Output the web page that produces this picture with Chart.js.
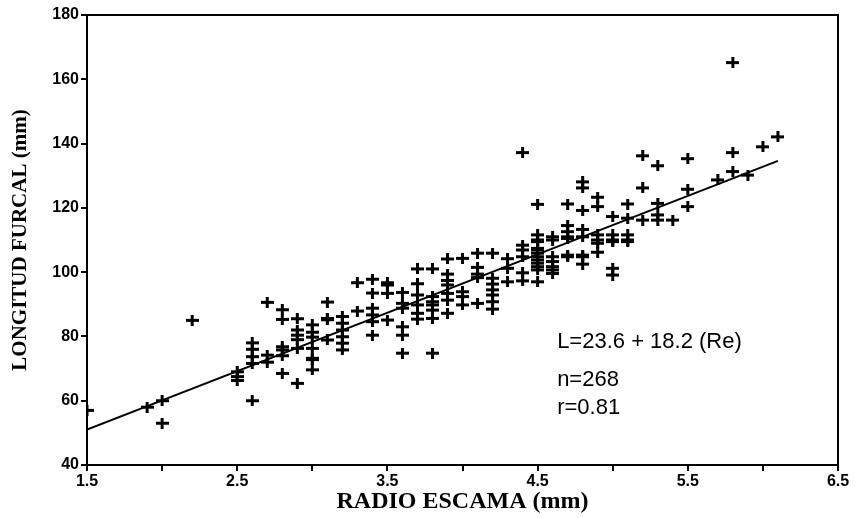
<!DOCTYPE html>
<html>
<head>
<meta charset="utf-8">
<script src="https://cdn.jsdelivr.net/npm/chart.js@4/dist/chart.umd.min.js"></script>
<style>
  html, body { margin: 0; padding: 0; background: #fff; }
  #wrap { width: 856px; height: 518px; }
</style>
</head>
<body>
<div id="wrap"><canvas id="chart" width="856" height="518"></canvas></div>
<script>
// radio de escama (mm) and longitud furcal (mm)
const radio = [
  1.5, 1.9, 2.0, 2.0, 2.2,
  2.5, 2.5, 2.5, 2.6, 2.6, 2.6, 2.6, 2.6,
  2.7, 2.7, 2.7, 2.8, 2.8, 2.8, 2.8, 2.8, 2.8,
  2.9, 2.9, 2.9, 2.9, 2.9, 2.9,
  3.0, 3.0, 3.0, 3.0, 3.0, 3.0, 3.0,
  3.1, 3.1, 3.1, 3.1,
  3.2, 3.2, 3.2, 3.2, 3.2, 3.2,
  3.3, 3.3, 3.4, 3.4, 3.4, 3.4, 3.4, 3.4,
  3.5, 3.5, 3.5, 3.5,
  3.6, 3.6, 3.6, 3.6, 3.6, 3.6,
  3.7, 3.7, 3.7, 3.7, 3.7, 3.7,
  3.8, 3.8, 3.8, 3.8, 3.8, 3.8, 3.8,
  3.9, 3.9, 3.9, 3.9, 3.9, 3.9, 3.9,
  4.0, 4.0, 4.0, 4.0,
  4.1, 4.1, 4.1, 4.1, 4.1,
  4.2, 4.2, 4.2, 4.2, 4.2, 4.2, 4.2,
  4.3, 4.3, 4.3,
  4.4, 4.4, 4.4, 4.4, 4.4, 4.4,
  4.5, 4.5, 4.5, 4.5, 4.5, 4.5, 4.5, 4.5, 4.5, 4.5, 4.5, 4.5, 4.5,
  4.6, 4.6, 4.6, 4.6, 4.6, 4.6, 4.6,
  4.7, 4.7, 4.7, 4.7, 4.7, 4.7, 4.7,
  4.8, 4.8, 4.8, 4.8, 4.8, 4.8, 4.8, 4.8,
  4.9, 4.9, 4.9, 4.9, 4.9, 4.9,
  5.0, 5.0, 5.0, 5.0, 5.0, 5.0,
  5.1, 5.1, 5.1, 5.1, 5.1,
  5.2, 5.2, 5.2,
  5.3, 5.3, 5.3, 5.3,
  5.4,
  5.5, 5.5, 5.5,
  5.7, 5.8, 5.8, 5.8, 5.9, 6.0, 6.1
];
const longitud = [
  57, 58, 60, 53, 85,
  69, 67.5, 66.3, 78, 76, 73.7, 71.6, 60,
  90.6, 74.2, 72, 88.3, 85.3, 76.8, 75.8, 74, 68.5,
  85.5, 82, 80.4, 79, 76.3, 65.4,
  83.6, 81.3, 79.8, 76.3, 73.2, 72.8, 69.6,
  90.7, 85.2, 85.6, 78.9,
  86.2, 84.1, 82, 79.9, 77.9, 75.8,
  96.7, 87.9, 97.8, 93.5, 88.8, 86.7, 84.6, 80.4,
  96.7, 96, 93.4, 85.1,
  93.7, 90.3, 88.8, 83, 80.4, 74.8,
  101, 96.4, 92.9, 89.8, 87.2, 85.4,
  101, 92.4, 90.8, 89.8, 88.2, 85.6, 74.8,
  104.1, 99.4, 97.4, 96, 93.4, 91.3, 87.2,
  104.3, 93.9, 89.8, 92.4,
  105.9, 101.5, 99.4, 98.3, 90.3,
  105.9, 98.1, 96.3, 94.5, 92.9, 90.8, 88.5,
  104.2, 101.2, 97,
  137.2, 108.4, 106.9, 104.8, 99.8, 97.3,
  121.1, 111.6, 110, 109.5, 107.4, 106.9, 105.9, 104.8, 103.8, 102.8, 101.7, 100.7, 97,
  111, 110, 104.8, 103.3, 101.7, 100.7, 99.6,
  121.2, 114.5, 112.6, 111, 110.5, 105.3, 104.8,
  128.1, 126.2, 119.2, 113.3, 111, 105.3, 104.8, 102.5,
  123.3, 120.4, 111.6, 110, 109, 106.2,
  117.3, 111.6, 110, 109.5, 101.2, 99.1,
  121.2, 116.8, 111.6, 110, 109.5,
  136.2, 126.2, 116.2,
  133.1, 121.4, 117.8, 116.2,
  116.2,
  135.3, 125.8, 120.4,
  128.7, 165.2, 137.2, 131.3, 130.2, 139, 142.1
];

// fitted line end points (L = 23.6 + 18.2 Re)
const fitX = [1.5, 6.1];
const fitY = [51.0, 134.6];

const xTicks = [1.5, 2.5, 3.5, 4.5, 5.5, 6.5];
const notes = ['L=23.6 + 18.2 (Re)', 'n=268', 'r=0.81'];
const notePos = [[4.63, 78.2], [4.63, 66.6], [4.63, 57.6]];

const makePlus = () => {
  const c = document.createElement('canvas');
  c.width = 13;
  c.height = 11;
  const g = c.getContext('2d');
  g.fillStyle = '#000';
  g.fillRect(0, 4, 13, 3);
  g.fillRect(5, 0, 3, 11);
  return c;
};

const framePlugin = {
  id: 'frame',
  afterDraw(chart) {
    const { ctx, chartArea: a, scales } = chart;
    ctx.save();
    ctx.strokeStyle = '#000';
    ctx.lineWidth = 2;
    ctx.strokeRect(a.left, a.top, a.right - a.left, a.bottom - a.top);
    ctx.fillStyle = '#000';
    ctx.font = '22px "Liberation Sans", Arial, sans-serif';
    ctx.textBaseline = 'middle';
    notes.forEach((t, i) => {
      ctx.fillText(t, scales.x.getPixelForValue(notePos[i][0]), scales.y.getPixelForValue(notePos[i][1]));
    });
    ctx.restore();
  }
};

const points = radio.map((r, i) => ({ x: r, y: longitud[i] }));
const fit = fitX.map((r, i) => ({ x: r, y: fitY[i] }));

new Chart(document.getElementById('chart'), {
  type: 'scatter',
  data: {
    datasets: [
      {
        data: points,
        pointStyle: makePlus(),
        pointRadius: 6,
        pointHoverRadius: 6
      },
      {
        type: 'line',
        data: fit,
        borderColor: '#000',
        borderWidth: 2,
        pointRadius: 0,
        fill: false
      }
    ]
  },
  options: {
    responsive: false,
    animation: false,
    events: [],
    layout: { padding: { top: 15, right: 18, bottom: 0, left: 0 } },
    plugins: { legend: { display: false }, tooltip: { enabled: false } },
    scales: {
      x: {
        type: 'linear',
        min: 1.5,
        max: 6.5,
        afterFit(scale) { scale.height = 53; },
        afterBuildTicks(scale) {
          const t = [];
          for (let v = 1.5; v <= 6.5001; v += 0.5) t.push({ value: Math.round(v * 10) / 10 });
          scale.ticks = t;
        },
        ticks: {
          autoSkip: false,
          maxRotation: 0,
          padding: 1,
          color: '#000',
          font: { family: '"Liberation Sans", Arial, sans-serif', size: 16, weight: 'bold' },
          callback: (v) => xTicks.includes(v) ? v.toFixed(1) : ''
        },
        grid: { drawOnChartArea: false, drawTicks: true, tickLength: 6, color: '#000', lineWidth: 2 },
        border: { display: true, color: '#000', width: 2 },
        title: {
          display: true,
          text: 'RADIO ESCAMA (mm)',
          color: '#000',
          padding: { top: 0, bottom: 2 },
          font: { family: '"Liberation Serif", "Times New Roman", serif', size: 24, weight: 'bold' }
        }
      },
      y: {
        min: 40,
        max: 180,
        afterFit(scale) { scale.width = 87; },
        ticks: {
          stepSize: 20,
          padding: 2,
          color: '#000',
          font: { family: '"Liberation Sans", Arial, sans-serif', size: 16, weight: 'bold' }
        },
        grid: { drawOnChartArea: false, drawTicks: true, tickLength: 6, color: '#000', lineWidth: 2 },
        border: { display: true, color: '#000', width: 2 },
        title: {
          display: true,
          text: 'LONGITUD FURCAL (mm)',
          color: '#000',
          padding: { top: 8, bottom: 4 },
          font: { family: '"Liberation Serif", "Times New Roman", serif', size: 21, weight: 'bold' }
        }
      }
    }
  },
  plugins: [framePlugin]
});
</script>
</body>
</html>
